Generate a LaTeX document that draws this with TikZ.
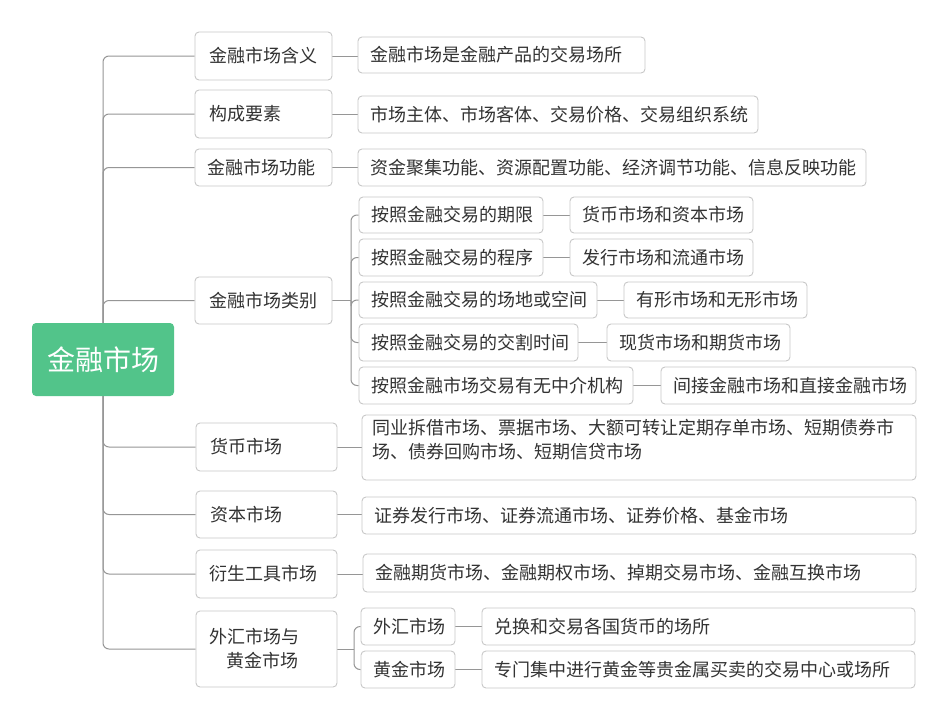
\documentclass[tikz,border=0pt]{standalone}
\usepackage{fontspec}
\setmainfont{Noto Sans CJK SC}
\usetikzlibrary{backgrounds}
\definecolor{txtc}{RGB}{51,51,51}
\definecolor{bordc}{RGB}{200,200,200}
\definecolor{linec}{RGB}{150,150,150}
\definecolor{rootc}{RGB}{82,196,138}
\tikzset{
  box/.style={draw=bordc,line width=0.9pt,fill=white,rounded corners=4pt,
    inner xsep=12pt,inner ysep=0pt,align=left,text=txtc,
    font=\fontsize{18}{24}\selectfont},
  rootbox/.style={fill=rootc,rounded corners=4pt,text=white,
    minimum width=142pt,minimum height=73pt,inner sep=0pt,
    font=\fontsize{28}{32}\selectfont},
  conn/.style={draw=linec,line width=1pt,rounded corners=6pt},
  txtonly/.style={inner sep=0pt,text=txtc,align=left,
    font=\fontsize{18}{24}\selectfont}
}
\newcommand\bx[7][]{%
  \pgfmathsetmacro\bxw{#5-#3}%
  \pgfmathsetmacro\bxh{#6-#4}%
  \pgfmathsetmacro\bxcx{(#3+#5)/2}%
  \pgfmathsetmacro\bxcy{(#4+#6)/2}%
  \pgfmathsetmacro\bxtw{#5-#3-24}%
  \node[box,minimum width=\bxw pt,minimum height=\bxh pt,text width=\bxtw pt,#1] (#2) at (\bxcx,\bxcy) {#7};}
\begin{document}
\begin{tikzpicture}[x=1pt,y=-1pt]
\useasboundingbox (0,0) rectangle (949,720);
% root
\node[rootbox] (root) at (103,359.5) {金融市场};
% level 1
\bx{c1}{195}{32}{332}{80}{\hspace*{2pt}金融市场含义}
\bx{c2}{195}{90}{332}{138}{\hspace*{2pt}构成要素}
\bx{c3}{195}{149}{332}{186}{金融市场功能}
\bx{c4}{195}{277}{332}{324}{\hspace*{2pt}金融市场类别}
\bx{c5}{196}{423}{337}{471}{\hspace*{2pt}货币市场}
\bx{c6}{196}{491}{337}{538}{\hspace*{2pt}资本市场}
\bx{c7}{196}{550}{337}{598}{\hspace*{1pt}衍生工具市场}
\bx{c8}{196}{611}{337}{687}{\hspace*{1pt}外汇市场与\\\hspace*{1pt}\hspace*{0.95em}黄金市场}
% level 2
\bx{d1}{358}{37}{645}{73}{金融市场是金融产品的交易场所}
\bx{d2}{358}{96}{758}{133}{市场主体、市场客体、交易价格、交易组织系统}
\bx{d3}{358}{149}{866}{186}{资金聚集功能、资源配置功能、经济调节功能、信息反映功能}
\bx{k1}{359}{197}{543}{233}{按照金融交易的期限}
\bx{k2}{359}{239}{543}{276}{按照金融交易的程序}
\bx{k3}{359}{282}{597}{318}{按照金融交易的场地或空间}
\bx{k4}{359}{324}{578}{361}{按照金融交易的交割时间}
\bx{k5}{359}{367}{633}{404}{按照金融市场交易有无中介机构}
\bx{g1}{570}{197}{753}{233}{货币市场和资本市场}
\bx{g2}{570}{239}{753}{276}{发行市场和流通市场}
\bx{g3}{624}{282}{807}{318}{有形市场和无形市场}
\bx{g4}{607}{324}{790}{361}{现货市场和期货市场}
\bx{g5}{661}{367}{916}{404}{间接金融市场和直接金融市场}
\bx{d5}{362}{415}{916}{480}{}
\node[txtonly,anchor=north west] (d5t) at (372,419) {同业拆借市场、票据市场、大额可转让定期存单市场、短期债券市\\场、债券回购市场、短期信贷市场};
\bx{d6}{362}{497}{916}{534}{证券发行市场、证券流通市场、证券价格、基金市场}
\bx{d7}{363}{554}{916}{592}{金融期货市场、金融期权市场、掉期交易市场、金融互换市场}
\bx{e1}{361}{608}{455}{645}{外汇市场}
\bx{e2}{361}{651}{455}{688}{黄金市场}
\bx{f1}{482}{608}{915}{645}{兑换和交易各国货币的场所}
\bx{f2}{482}{651}{915}{688}{专门集中进行黄金等贵金属买卖的交易中心或场所}
\coordinate (s4) at (351,300.5);
\coordinate (s8) at (354,649);
\begin{scope}[on background layer]
\fill[white] (0,0) rectangle (949,720);
\foreach \n in {c1,c2,c3,c4,c5,c6,c7,c8}{\draw[conn] (root.center) |- (\n.west);}
\draw[conn] (c1.east) -- (c1.east -| d1.west);
\draw[conn] (c2.east) -- (c2.east -| d2.west);
\draw[conn] (c3.east) -- (c3.east -| d3.west);
\draw[conn] (c4.east) -- (s4);
\foreach \n in {k1,k2,k3,k4,k5}{\draw[conn] (s4) |- (\n.west);}
\draw[conn] (k1.east) -- (g1.west);
\draw[conn] (k2.east) -- (g2.west);
\draw[conn] (k3.east) -- (g3.west);
\draw[conn] (k4.east) -- (g4.west);
\draw[conn] (k5.east) -- (g5.west);
\draw[conn] (c5.east) -- (c5.east -| d5.west);
\draw[conn] (c6.east) -- (c6.east -| d6.west);
\draw[conn] (c7.east) -- (c7.east -| d7.west);
\draw[conn] (c8.east) -- (s8);
\draw[conn] (s8) |- (e1.west);
\draw[conn] (s8) |- (e2.west);
\draw[conn] (e1.east) -- (f1.west);
\draw[conn] (e2.east) -- (f2.west);
\end{scope}
\end{tikzpicture}
\end{document}
